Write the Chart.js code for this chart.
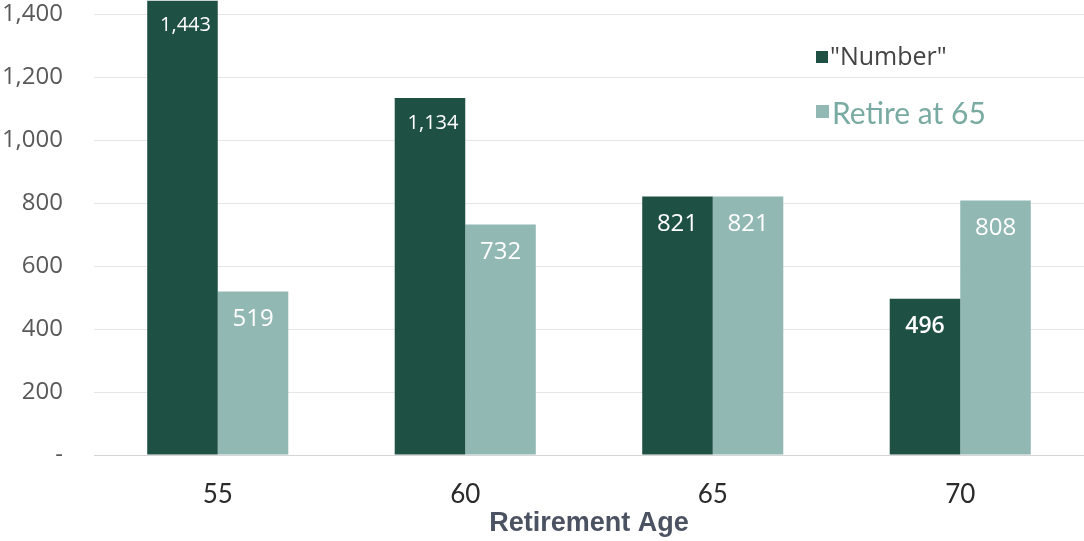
<!DOCTYPE html>
<html>
<head>
<meta charset="utf-8">
<script src="https://cdn.jsdelivr.net/npm/chart.js@4.4.1/dist/chart.umd.min.js"></script>
<style>
  html, body { margin: 0; padding: 0; background: #ffffff; }
  #wrap { width: 1084px; height: 541px; }
</style>
</head>
<body>
<div id="wrap"><canvas id="chart" width="1084" height="541"></canvas></div>
<script>
// Retirement ages on the x axis
const retirementAges = ['55', '60', '65', '70'];
// Savings needed ("Number") by retirement age
const numberValues = [1443, 1134, 821, 496];
// Savings when retiring at 65
const retireAt65Values = [519, 732, 821, 808];
// Value-axis ticks
const yTickValues = [0, 200, 400, 600, 800, 1000, 1200, 1400];

const DARK = '#1f5044';
const LIGHT = '#92b8b3';

const fmt = v => v === 0 ? '-' : v.toLocaleString('en-US');

// Value labels drawn inside the top of each bar
const barLabels = {
  id: 'barLabels',
  afterDatasetsDraw(chart) {
    const ctx = chart.ctx;
    ctx.save();
    ctx.textAlign = 'center';
    ctx.textBaseline = 'middle';
    ctx.fillStyle = '#ffffff';
    chart.data.datasets.forEach((ds, di) => {
      const meta = chart.getDatasetMeta(di);
      meta.data.forEach((bar, i) => {
        const text = fmt(ds.data[i]);
        const small = text.length > 3;
        const bold = di === 0 && !small && ds.data[i] < 600;
        const size = small ? 20 : (bold ? 23 : 24);
        ctx.font = (bold ? '600 ' : '400 ') + size + 'px "Open Sans", sans-serif';
        ctx.fillText(text, bar.x + (small ? 3 : 0), bar.y + (small ? 25 : 28));
      });
    });
    ctx.restore();
  }
};

// Legend at the upper right of the plot
const sideLegend = {
  id: 'sideLegend',
  afterDraw(chart) {
    const ctx = chart.ctx;
    const ds = chart.data.datasets;
    ctx.save();
    ctx.textBaseline = 'middle';
    ctx.textAlign = 'left';
    ctx.fillStyle = ds[0].backgroundColor;
    ctx.fillRect(816, 51, 12, 12);
    ctx.fillStyle = '#444444';
    ctx.font = '400 25px "Open Sans", sans-serif';
    ctx.fillText(ds[0].label, 830, 58);
    ctx.fillStyle = ds[1].backgroundColor;
    ctx.fillRect(816, 105, 13, 13);
    ctx.fillStyle = '#7aaba3';
    ctx.font = '400 30px Lato, sans-serif';
    ctx.fillText(ds[1].label, 832, 114);
    ctx.restore();
  }
};

new Chart(document.getElementById('chart'), {
  type: 'bar',
  data: {
    labels: retirementAges,
    datasets: [
      { label: '"Number"', data: numberValues, backgroundColor: DARK },
      { label: 'Retire at 65', data: retireAt65Values, backgroundColor: LIGHT }
    ]
  },
  options: {
    responsive: false,
    animation: false,
    layout: { padding: 0 },
    plugins: {
      legend: { display: false },
      tooltip: { enabled: false }
    },
    datasets: {
      bar: { categoryPercentage: 0.57, barPercentage: 1.0 }
    },
    scales: {
      x: {
        grid: { display: false, drawTicks: false },
        border: { display: true, color: '#d6d6d6', width: 1 },
        ticks: {
          color: '#2a2a2a',
          font: { family: 'Lato', size: 26 },
          padding: 24
        },
        title: {
          display: true,
          text: 'Retirement Age',
          color: '#4b5262',
          font: { family: '"Liberation Sans Narrow", "Liberation Sans", sans-serif', size: 27, weight: 'bold' },
          padding: { top: 0, bottom: 1 }
        },
        afterFit(scale) { scale.height = 86; }
      },
      y: {
        min: 0,
        max: 1445,
        grid: { color: '#e6e6e6', lineWidth: 1, drawTicks: false },
        border: { display: false },
        afterBuildTicks(scale) {
          scale.ticks = yTickValues.map(v => ({ value: v }));
        },
        ticks: {
          color: '#595959',
          font: { family: '"Open Sans"', size: 24 },
          padding: 31,
          callback: v => fmt(v)
        },
        afterFit(scale) {
          scale.width = 94;
          scale.paddingTop = 0;
          scale.paddingBottom = 0;
        }
      }
    }
  },
  plugins: [barLabels, sideLegend]
});
</script>
</body>
</html>
